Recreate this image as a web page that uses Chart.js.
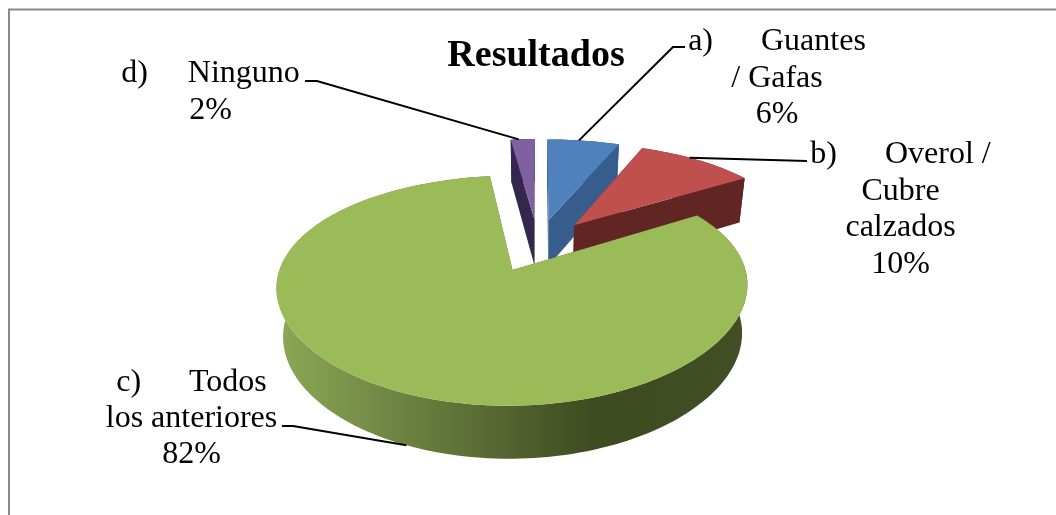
<!DOCTYPE html>
<html>
<head>
<meta charset="utf-8">
<title>Resultados</title>
<script src="https://cdn.jsdelivr.net/npm/chart.js@4"></script>
<style>
    html, body { margin: 0; padding: 0; background: #fff; overflow: hidden; }
    canvas { display: block; }
</style>
</head>
<body>
<canvas id="chart" width="1056" height="515"></canvas>
<script>
// Chart data
const categories = ["a) Guantes / Gafas", "b) Overol / Cubre calzados", "c) Todos los anteriores", "d) Ninguno"];
const values = [6, 10, 82, 2];
const labelLines = [
    ["a)\u00A0\u00A0\u00A0\u00A0\u00A0\u00A0Guantes", "/ Gafas"],
    ["b)\u00A0\u00A0\u00A0\u00A0\u00A0\u00A0Overol /", "Cubre", "calzados"],
    ["c)\u00A0\u00A0\u00A0\u00A0\u00A0\u00A0Todos", "los anteriores"],
    ["d)\u00A0\u00A0\u00A0\u00A0\u00A0Ninguno"]
];

// Slice colours
const topColors = ["#4f81bd", "#c0504d", "#9bbb59", "#7f60a0"];
const wallColors = ["#375d8c", "#612524", null, "#33274b"];

// Label placement: centre x, first baseline, line height, where the leader touches the rim (0-1), rest of the leader
const labelPlaces = [
    { x: 777, y: 50, step: 36.5, touch: 0.47, leader: [[673, 47], [685, 47]] },
    { x: 900.5, y: 163, step: 36.7, touch: 0.46, leader: [[807, 161]] },
    { x: 191.5, y: 391, step: 36, touch: 0.497, leader: [[293, 426], [282, 426]] },
    { x: 210.5, y: 82, step: 37, touch: 0.4, leader: [[317, 81], [305, 81]] }
];
const drawOrder = [3, 0, 1, 2]; // back slices first, the big one covers their walls

// View of the 3D pie
const view = { cx: 538, cy: 270, originY: 54.4, squash: 0.478, perspective: 0.18, depth: 48, narrow: 0.026 };

// Plane coordinates (x right, y towards the back) to the screen, z = 0 top face, z = 1 bottom face
function project(x, y, z, radius) {
    const u = y + view.originY;
    const w = 1 + view.perspective * u / radius;
    return [
        view.cx + x / (Math.pow(w, 0.8) * (1 + view.narrow * z)),
        view.cy - view.squash * u / w + view.depth * z / Math.sqrt(w)
    ];
}

// Outline of one arc of the library, exploded along its middle angle
function arcPoints(arc, z) {
    const radius = arc.outerRadius;
    const mid = (arc.startAngle + arc.endAngle) / 2;
    const ox = Math.cos(mid) * arc.options.offset;
    const oy = -Math.sin(mid) * arc.options.offset;
    const steps = Math.ceil((arc.endAngle - arc.startAngle) * 40);
    const rim = [];
    for (let i = 0; i <= steps; i++) {
        const a = arc.startAngle + (arc.endAngle - arc.startAngle) * i / steps;
        rim.push(project(ox + Math.cos(a) * radius, oy - Math.sin(a) * radius, z, radius));
    }
    return { apex: project(ox, oy, z, radius), rim: rim };
}

function fillPolygon(ctx, points, color) {
    ctx.beginPath();
    points.forEach((p, i) => i ? ctx.lineTo(p[0], p[1]) : ctx.moveTo(p[0], p[1]));
    ctx.closePath();
    ctx.fillStyle = color;
    ctx.fill();
}

function drawSlice(ctx, arc, index) {
    const top = arcPoints(arc, 0);
    const bottom = arcPoints(arc, 1);
    let wall = wallColors[index];
    if (!wall) {
        // Big slice: its rim gets darker from left to right
        wall = ctx.createLinearGradient(283, 0, 745, 0);
        wall.addColorStop(0, "#8aa656");
        wall.addColorStop(0.675, "#3e4a20");
        wall.addColorStop(1, "#424e24");
    }
    const last = top.rim.length - 1;
    fillPolygon(ctx, [top.apex, top.rim[0], bottom.rim[0], bottom.apex], wall);
    fillPolygon(ctx, [top.apex, top.rim[last], bottom.rim[last], bottom.apex], wall);
    fillPolygon(ctx, top.rim.concat(bottom.rim.slice().reverse()), wall);
    fillPolygon(ctx, [top.apex].concat(top.rim), topColors[index]);
}

// Where the leader line touches the slice, on the top or bottom edge of the rim
function leaderStart(arc, touch) {
    const mid = (arc.startAngle + arc.endAngle) / 2;
    const list = arcPoints(arc, Math.sin(mid) > 0 ? 1 : 0).rim;
    return list[Math.floor((list.length - 1) * touch)];
}

// Replaces the flat drawing of the doughnut controller
const pie3d = {
    id: "pie3d",
    beforeDraw(chart) {
        const ctx = chart.ctx;
        ctx.save();
        ctx.fillStyle = "#fff";
        ctx.fillRect(0, 0, chart.width, chart.height);
        ctx.strokeStyle = "#8a8a8a";
        ctx.lineWidth = 2;
        ctx.beginPath();
        ctx.moveTo(9, chart.height);
        ctx.lineTo(9, 9.5);
        ctx.lineTo(chart.width, 9.5);
        ctx.stroke();
        ctx.restore();
    },
    beforeDatasetsDraw(chart) {
        const ctx = chart.ctx;
        const arcs = chart.getDatasetMeta(0).data;
        ctx.save();
        drawOrder.forEach(i => drawSlice(ctx, arcs[i], i));

        // Leader lines and labels
        ctx.strokeStyle = "#000";
        ctx.lineWidth = 2;
        ctx.fillStyle = "#000";
        ctx.font = "32px 'Liberation Serif'";
        ctx.textAlign = "center";
        ctx.textBaseline = "alphabetic";
        labelPlaces.forEach((place, i) => {
            const start = leaderStart(arcs[i], place.touch);
            ctx.beginPath();
            ctx.moveTo(start[0], start[1]);
            place.leader.forEach(p => ctx.lineTo(p[0], p[1]));
            ctx.stroke();
            const lines = labelLines[i].concat(values[i] + "%");
            lines.forEach((line, n) => ctx.fillText(line, place.x, place.y + n * place.step));
        });
        ctx.restore();
        return false;
    }
};

new Chart(document.getElementById("chart"), {
    type: "pie",
    data: {
        labels: categories,
        datasets: [{ data: values, backgroundColor: topColors, offset: 60, borderWidth: 0 }]
    },
    plugins: [pie3d],
    options: {
        responsive: false,
        animation: false,
        radius: 233,
        layout: { padding: { left: 16 } },
        plugins: {
            legend: { display: false },
            tooltip: { enabled: false },
            title: {
                display: true,
                text: "Resultados",
                color: "#000",
                font: { family: "'Liberation Serif'", size: 38, weight: "bold" },
                padding: { top: 33, bottom: 0 }
            }
        }
    }
});
</script>
</body>
</html>
